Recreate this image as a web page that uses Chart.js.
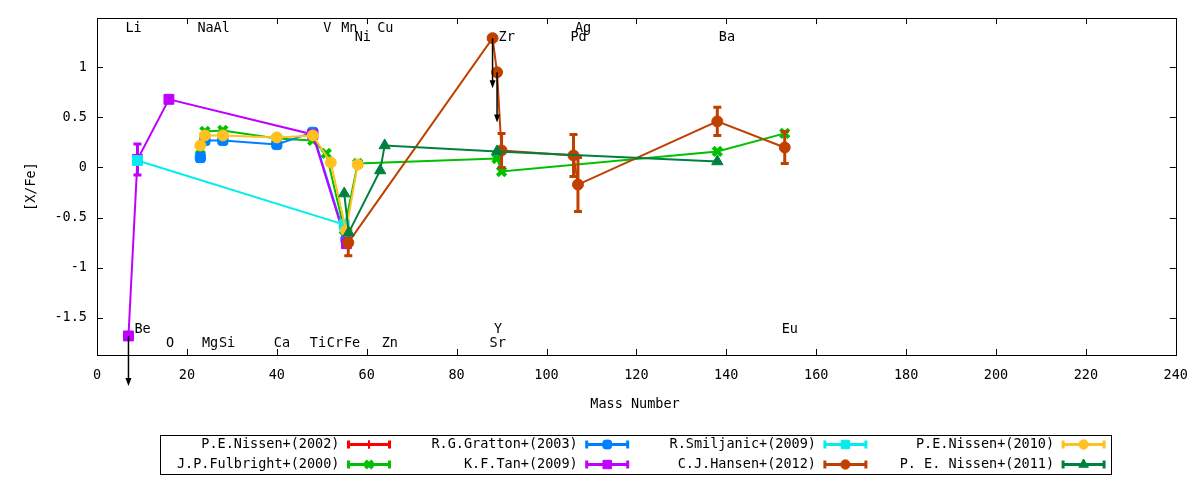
<!DOCTYPE html>
<html>
<head>
<meta charset="utf-8">
<script src="https://cdn.jsdelivr.net/npm/chart.js@4.4.1/dist/chart.umd.min.js"></script>
<style>
  html, body { margin: 0; padding: 0; background: #fff; }
  #wrap { width: 1200px; height: 480px; }
</style>
</head>
<body>
<div id="wrap"><canvas id="chart" width="1200" height="480"></canvas></div>
<script>
const FONT = '"DejaVu Sans Mono", monospace';

// Axis ticks
const xTicks = [0, 20, 40, 60, 80, 100, 120, 140, 160, 180, 200, 220, 240];
const yTicks = [-1.5, -1, -0.5, 0, 0.5, 1];

// Element labels: name, mass number, [X/Fe] height of the label
const elemNames = ['Li', 'Be', 'O', 'Na', 'Mg', 'Al', 'Si', 'Ca', 'Ti', 'V', 'Cr', 'Mn', 'Fe', 'Ni', 'Cu', 'Zn', 'Sr', 'Y', 'Zr', 'Pd', 'Ag', 'Ba', 'Eu'];
const elemMass  = [7, 9, 16, 23, 24, 26.6, 27.8, 40, 48, 51, 51.8, 55, 55.6, 58, 63, 64, 88, 89, 90, 106, 107, 139, 153];
const elemPos   = [1.39, -1.62, -1.76, 1.39, -1.76, 1.39, -1.76, -1.76, -1.76, 1.39, -1.76, 1.39, -1.76, 1.30, 1.39, -1.76, -1.76, -1.62, 1.30, 1.30, 1.39, 1.30, -1.62];

// Series data (mass number vs [X/Fe])
const nissen02Mass = [];
const nissen02Val  = [];

const fulbrightMass = [23, 24, 28, 40, 48, 51, 55, 58, 89, 90, 138, 153];
const fulbrightVal  = [0.18, 0.36, 0.37, 0.29, 0.27, 0.14, -0.62, 0.04, 0.09, -0.04, 0.16, 0.34];

const grattonMass = [23, 24, 28, 40, 48, 55.4];
const grattonVal  = [0.10, 0.27, 0.27, 0.23, 0.35, -0.72];
const grattonErr  = [0.04, 0, 0, 0, 0, 0];

const tanMass  = [7, 9, 16, 48, 55.5];
const tanVal   = [-1.68, 0.08, 0.68, 0.33, -0.76];
const tanErr   = [0, 0.155, 0, 0, 0];
const tanLimit = [true, false, false, false, false];

const smiljanicMass = [9, 55];
const smiljanicVal  = [0.07, -0.57];

const hansenMass  = [55.9, 88, 89, 90, 106, 107, 138, 153];
const hansenVal   = [-0.75, 1.29, 0.95, 0.17, 0.12, -0.17, 0.46, 0.20];
const hansenErr   = [0.13, 0, 0, 0.17, 0.21, 0.27, 0.14, 0.16];
const hansenLimit = [false, true, true, false, false, false, false, false];

const nissen10Mass = [23, 24, 28, 40, 48, 52, 55.4, 58];
const nissen10Val  = [0.22, 0.32, 0.32, 0.30, 0.32, 0.05, -0.63, 0.03];

const nissen11Mass = [55, 56, 63, 64, 89, 138];
const nissen11Val  = [-0.26, -0.65, -0.03, 0.22, 0.16, 0.06];

// Series styling, in legend order
const seriesNames   = ['P.E.Nissen+(2002)', 'J.P.Fulbright+(2000)', 'R.G.Gratton+(2003)', 'K.F.Tan+(2009)',
                       'R.Smiljanic+(2009)', 'C.J.Hansen+(2012)', 'P.E.Nissen+(2010)', 'P. E. Nissen+(2011)'];
const seriesColors  = ['#ff0000', '#00c000', '#0080ff', '#c000ff', '#00eeee', '#c04000', '#ffc020', '#008040'];
const seriesMarkers = ['cross', 'crossRot', 'rectRounded', 'rect', 'rect', 'circle', 'circle', 'triangle'];
const seriesRadius  = [5, 6, 6, 7, 7, 5.5, 5.5, 6.5];
const seriesPtBorder = [2, 4, 1, 1, 1, 1, 1, 1];

const seriesData = [
  { mass: nissen02Mass, val: nissen02Val },
  { mass: fulbrightMass, val: fulbrightVal },
  { mass: grattonMass, val: grattonVal, err: grattonErr },
  { mass: tanMass, val: tanVal, err: tanErr, limit: tanLimit },
  { mass: smiljanicMass, val: smiljanicVal },
  { mass: hansenMass, val: hansenVal, err: hansenErr, limit: hansenLimit },
  { mass: nissen10Mass, val: nissen10Val },
  { mass: nissen11Mass, val: nissen11Val }
];

const datasets = seriesData.map((s, i) => ({
  label: seriesNames[i],
  data: s.mass.map((m, k) => ({ x: m, y: s.val[k] })),
  errs: s.err || null,
  limits: s.limit || null,
  showLine: true,
  borderColor: seriesColors[i],
  backgroundColor: seriesColors[i],
  borderWidth: 2,
  pointStyle: seriesMarkers[i],
  pointRadius: seriesRadius[i],
  pointBorderWidth: seriesPtBorder[i],
  pointBackgroundColor: seriesColors[i],
  pointBorderColor: seriesColors[i],
  tension: 0,
  order: 7 - i   // later series drawn on top
}));

// Error bars, upper-limit arrows, frame, labels and legend
const gnuplotLook = {
  id: 'gnuplotLook',
  afterDatasetDraw(chart, args) {
    const ds = chart.data.datasets[args.index];
    if (!ds.errs) return;
    const ctx = chart.ctx;
    const ys = chart.scales.y;
    ctx.save();
    ctx.strokeStyle = ds.borderColor;
    args.meta.data.forEach((pt, k) => {
      const e = ds.errs[k];
      if (!e) return;
      const v = ds.data[k].y;
      const top = ys.getPixelForValue(v + e);
      const bot = ys.getPixelForValue(v - e);
      ctx.lineWidth = 3;
      ctx.beginPath();
      ctx.moveTo(pt.x, top);
      ctx.lineTo(pt.x, bot);
      ctx.stroke();
      ctx.beginPath();
      ctx.moveTo(pt.x - 4, top); ctx.lineTo(pt.x + 4, top);
      ctx.moveTo(pt.x - 4, bot); ctx.lineTo(pt.x + 4, bot);
      ctx.stroke();
    });
    ctx.restore();
  },
  afterDraw(chart) {
    const ctx = chart.ctx;
    const xs = chart.scales.x, ys = chart.scales.y;
    const a = chart.chartArea;
    ctx.save();

    // upper-limit arrows
    ctx.strokeStyle = '#000';
    ctx.fillStyle = '#000';
    ctx.lineWidth = 1.5;
    chart.data.datasets.forEach(ds => {
      if (!ds.limits) return;
      ds.data.forEach((p, k) => {
        if (!ds.limits[k]) return;
        const x = xs.getPixelForValue(p.x);
        const y0 = ys.getPixelForValue(p.y);
        const y1 = ys.getPixelForValue(p.y - 0.5);
        ctx.beginPath();
        ctx.moveTo(x, y0);
        ctx.lineTo(x, y1 - 6);
        ctx.stroke();
        ctx.beginPath();
        ctx.moveTo(x, y1);
        ctx.lineTo(x - 3, y1 - 8);
        ctx.lineTo(x + 3, y1 - 8);
        ctx.closePath();
        ctx.fill();
      });
    });

    // frame and inward ticks
    ctx.lineWidth = 1;
    ctx.strokeRect(Math.round(a.left) + 0.5, Math.round(a.top) + 0.5,
                   Math.round(a.right - a.left), Math.round(a.bottom - a.top));
    ctx.beginPath();
    xTicks.forEach(v => {
      const x = Math.round(xs.getPixelForValue(v)) + 0.5;
      ctx.moveTo(x, a.bottom); ctx.lineTo(x, a.bottom - 6);
      ctx.moveTo(x, a.top); ctx.lineTo(x, a.top + 6);
    });
    yTicks.forEach(v => {
      const y = Math.round(ys.getPixelForValue(v)) + 0.5;
      ctx.moveTo(a.left, y); ctx.lineTo(a.left + 6, y);
      ctx.moveTo(a.right, y); ctx.lineTo(a.right - 6, y);
    });
    ctx.stroke();

    // element labels
    ctx.font = '13.5px ' + FONT;
    ctx.fillStyle = '#000';
    ctx.textAlign = 'left';
    ctx.textBaseline = 'middle';
    elemNames.forEach((n, i) => {
      ctx.fillText(n, xs.getPixelForValue(elemMass[i]) - 3, ys.getPixelForValue(elemPos[i]));
    });

    // axis titles
    ctx.textAlign = 'center';
    ctx.fillText('Mass Number', 635, 404);
    ctx.save();
    ctx.translate(31, (a.top + a.bottom) / 2);
    ctx.rotate(-Math.PI / 2);
    ctx.fillText('[X/Fe]', 0, 0);
    ctx.restore();

    // legend
    ctx.lineWidth = 1;
    ctx.strokeStyle = '#000';
    ctx.strokeRect(160.5, 435.5, 951, 39);
    seriesNames.forEach((name, i) => {
      const col = Math.floor(i / 2), row = i % 2;
      const tr = 339.5 + 238.2 * col;
      const y = 444.5 + 20 * row;
      ctx.fillStyle = '#000';
      ctx.textAlign = 'right';
      ctx.fillText(name, tr, y);
      const x0 = tr + 8, x1 = tr + 51;
      ctx.strokeStyle = seriesColors[i];
      ctx.fillStyle = seriesColors[i];
      ctx.lineWidth = 3;
      ctx.beginPath();
      ctx.moveTo(x0, y); ctx.lineTo(x1, y);
      ctx.moveTo(x0 + 1, y - 4); ctx.lineTo(x0 + 1, y + 4);
      ctx.moveTo(x1 - 1, y - 4); ctx.lineTo(x1 - 1, y + 4);
      ctx.stroke();
      ctx.lineWidth = seriesPtBorder[i];
      Chart.helpers.drawPoint(ctx, {
        pointStyle: seriesMarkers[i],
        radius: seriesRadius[i] * 0.85,
        rotation: 0,
        borderWidth: seriesPtBorder[i]
      }, (x0 + x1) / 2, y);
    });

    ctx.restore();
  }
};

new Chart(document.getElementById('chart'), {
  type: 'scatter',
  data: { datasets },
  options: {
    responsive: false,
    devicePixelRatio: 1,
    animation: false,
    layout: { padding: { left: 0, top: 17, right: 23, bottom: 0 } },
    plugins: {
      legend: { display: false },
      tooltip: { enabled: false }
    },
    scales: {
      x: {
        type: 'linear',
        min: 0,
        max: 240,
        afterBuildTicks: s => { s.ticks = xTicks.map(v => ({ value: v })); },
        afterFit: s => { s.height = 125; },
        grid: { display: false, drawTicks: false },
        border: { display: false },
        ticks: {
          color: '#000',
          font: { family: FONT, size: 13.5 },
          padding: 12,
          maxRotation: 0,
          autoSkip: false,
          callback: v => String(v)
        }
      },
      y: {
        type: 'linear',
        min: -1.87,
        max: 1.49,
        afterBuildTicks: s => { s.ticks = yTicks.map(v => ({ value: v })); },
        afterFit: s => { s.width = 97; },
        grid: { display: false, drawTicks: false },
        border: { display: false },
        ticks: {
          color: '#000',
          font: { family: FONT, size: 13.5 },
          padding: 10,
          autoSkip: false,
          callback: v => String(v)
        }
      }
    }
  },
  plugins: [gnuplotLook]
});
</script>
</body>
</html>
